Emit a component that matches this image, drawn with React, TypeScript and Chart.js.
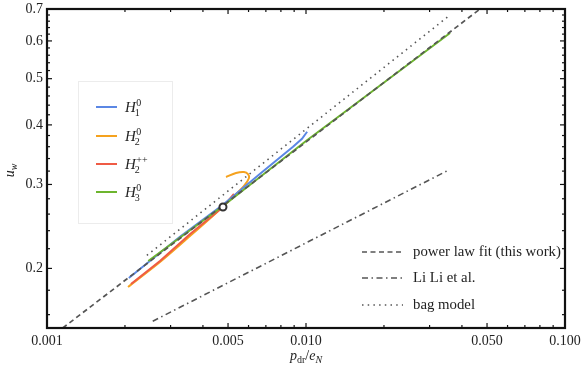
import React, { useEffect, useRef } from 'react';
import { Chart, registerables } from 'chart.js';
Chart.register(...registerables);

// ---- axis ranges & ticks ----
const xRange = [0.001, 0.1];
const yRange = [0.15, 0.7];
const xTickValues = [0.001, 0.005, 0.01, 0.05, 0.1];
const xTickLabels = ['0.001', '0.005', '0.010', '0.050', '0.100'];
const xMinorTicks = [0.002, 0.003, 0.004, 0.006, 0.007, 0.008, 0.009, 0.02, 0.03, 0.04, 0.06, 0.07, 0.08, 0.09];
const yTickValues = [0.2, 0.3, 0.4, 0.5, 0.6, 0.7];
const yTickLabels = ['0.2', '0.3', '0.4', '0.5', '0.6', '0.7'];
const yMinorTicks = [0.16, 0.18, 0.22, 0.24, 0.26, 0.28, 0.32, 0.34, 0.36, 0.38, 0.42, 0.44, 0.46, 0.48, 0.52, 0.54, 0.56, 0.58, 0.62, 0.64, 0.66, 0.68];

// ---- series ----
const h1P = [0.00207, 0.00326, 0.00478, 0.00665, 0.00891, 0.00965, 0.0101];
const h1U = [0.191, 0.233, 0.272, 0.316, 0.36, 0.374, 0.387];
const h2P = [0.002055, 0.002731, 0.003566, 0.004453, 0.00518, 0.005762, 0.006025, 0.005971, 0.005762, 0.005367, 0.004911];
const h2U = [0.1829, 0.2063, 0.2339, 0.2602, 0.2811, 0.2978, 0.3095, 0.3155, 0.3186, 0.3171, 0.311];
const h2ppP = [0.00211, 0.00273, 0.00357, 0.00478, 0.00527];
const h2ppU = [0.1855, 0.2073, 0.2361, 0.2691, 0.2865];
const h3P = [0.00246, 0.00478, 0.01, 0.036];
const h3U = [0.2073, 0.2704, 0.3701, 0.6233];
const fitP = [0.00115, 0.047];
const fitU = [0.15, 0.7];
const liP = [0.00256, 0.0357];
const liU = [0.155, 0.322];
const bagP = [0.00243, 0.036];
const bagU = [0.213, 0.68];
const markerP = [0.00478];
const markerU = [0.269];

const seriesSub = ['1', '2', '2', '3'];
const seriesSup = ['0', '0', '++', '0'];
const refLabels = ['power law fit (this work)', 'Li Li et al.', 'bag model'];

const colors = { h1: '#5b87e4', h2: '#f5a21e', h2pp: '#ef5b45', h3: '#6db52e', gray: '#555555' };
const SERIF = "'Liberation Serif', 'DejaVu Serif', serif";

const pts = (xs: number[], ys: number[]) => xs.map((x, i) => ({ x, y: ys[i] }));

type Part = { t: string; it?: boolean; size: number; dy?: number };
function drawParts(ctx: CanvasRenderingContext2D, parts: Part[], x: number, y: number, center: boolean) {
  const font = (p: Part) => `${p.it ? 'italic ' : ''}${p.size}px ${SERIF}`;
  let w = 0;
  for (const p of parts) { ctx.font = font(p); w += ctx.measureText(p.t).width; }
  let cx = center ? x - w / 2 : x;
  ctx.textBaseline = 'alphabetic';
  ctx.textAlign = 'left';
  for (const p of parts) {
    ctx.font = font(p);
    ctx.fillText(p.t, cx, y + (p.dy || 0));
    cx += ctx.measureText(p.t).width;
  }
}

const decorPlugin = {
  id: 'decor',
  afterDraw(chart: any) {
    const ctx: CanvasRenderingContext2D = chart.ctx;
    const ca = chart.chartArea;
    const xs = chart.scales.x;
    const ys = chart.scales.y;
    ctx.save();
    ctx.strokeStyle = '#111';
    ctx.lineWidth = 1.2;
    const line = (a: number, b: number, c: number, d: number) => {
      ctx.beginPath(); ctx.moveTo(a, b); ctx.lineTo(c, d); ctx.stroke();
    };
    const xt = (vals: number[], len: number) => vals.forEach(v => {
      const p = xs.getPixelForValue(v);
      line(p, ca.bottom, p, ca.bottom - len);
      line(p, ca.top, p, ca.top + len);
    });
    const yt = (vals: number[], len: number) => vals.forEach(v => {
      const p = ys.getPixelForValue(v);
      line(ca.left, p, ca.left + len, p);
      line(ca.right, p, ca.right - len, p);
    });
    xt(xTickValues, 5); xt(xMinorTicks, 3);
    yt(yTickValues, 5); yt(yMinorTicks, 3);
    ctx.lineWidth = 2.2;
    ctx.strokeRect(ca.left, ca.top, ca.right - ca.left, ca.bottom - ca.top);

    // axis titles
    ctx.fillStyle = '#222';
    drawParts(ctx, [
      { t: 'p', it: true, size: 14 },
      { t: 'dr', size: 10, dy: 3 },
      { t: '/', size: 14 },
      { t: 'e', it: true, size: 14 },
      { t: 'N', it: true, size: 10, dy: 3 },
    ], (ca.left + ca.right) / 2, 360, true);
    ctx.save();
    ctx.translate(14, (ca.top + ca.bottom) / 2 + 2);
    ctx.rotate(-Math.PI / 2);
    drawParts(ctx, [
      { t: 'u', it: true, size: 14 },
      { t: 'w', it: true, size: 10, dy: 3 },
    ], 0, 0, true);
    ctx.restore();

    // left legend (colored series)
    ctx.fillStyle = '#fff';
    ctx.fillRect(78, 81, 94, 142);
    ctx.strokeStyle = '#ececec';
    ctx.lineWidth = 1;
    ctx.strokeRect(78.5, 81.5, 94, 142);
    const ds = chart.data.datasets;
    const rowsY = [107, 136, 164, 192];
    for (let i = 0; i < 4; i++) {
      const y = rowsY[i];
      ctx.strokeStyle = ds[i].borderColor;
      ctx.lineWidth = 2;
      line(96, y, 117, y);
      ctx.fillStyle = '#222';
      ctx.font = `italic 15px ${SERIF}`;
      ctx.textAlign = 'left';
      ctx.textBaseline = 'alphabetic';
      ctx.fillText('H', 125, y + 5);
      const hw = ctx.measureText('H').width;
      ctx.font = `10px ${SERIF}`;
      ctx.fillText(seriesSup[i], 125 + hw + 0.5, y - 1.5);
      ctx.fillText(seriesSub[i], 125 + hw - 1, y + 8.5);
    }

    // right legend (reference curves)
    const refY = [252, 278, 305];
    for (let i = 0; i < 3; i++) {
      const d = ds[4 + i];
      ctx.strokeStyle = d.borderColor;
      ctx.lineWidth = d.borderWidth;
      ctx.setLineDash(d.borderDash);
      line(362, refY[i], 403, refY[i]);
      ctx.setLineDash([]);
      ctx.fillStyle = '#222';
      ctx.font = `14.8px ${SERIF}`;
      ctx.textBaseline = 'middle';
      ctx.textAlign = 'left';
      ctx.fillText(refLabels[i], 413, refY[i]);
    }
    ctx.restore();
  },
};

export default function App() {
  const ref = useRef<HTMLCanvasElement | null>(null);
  useEffect(() => {
    if (!ref.current) return;
    Chart.defaults.font.family = SERIF;
    const lineDs = (label: string, data: any, color: string, order: number, extra: any = {}) => ({
      label, data, borderColor: color, backgroundColor: color, borderWidth: 2,
      pointRadius: 0, fill: false, order, ...extra,
    });
    const chart = new Chart(ref.current, {
      type: 'line',
      data: {
        datasets: [
          lineDs('H1', pts(h1P, h1U), colors.h1, 6),
          lineDs('H2', pts(h2P, h2U), colors.h2, 8, { tension: 0.3 }),
          lineDs('H2++', pts(h2ppP, h2ppU), colors.h2pp, 7),
          lineDs('H3', pts(h3P, h3U), colors.h3, 5),
          lineDs('fit', pts(fitP, fitU), colors.gray, 3, { borderWidth: 1.7, borderDash: [5, 3.5] }),
          lineDs('li', pts(liP, liU), colors.gray, 4, { borderWidth: 1.6, borderDash: [6, 3.5, 1.5, 3.5] }),
          lineDs('bag', pts(bagP, bagU), colors.gray, 2, { borderWidth: 1.6, borderDash: [1.5, 4.2] }),
          {
            label: 'marker', data: pts(markerP, markerU), showLine: false, order: 0,
            pointRadius: 3.5, pointBorderWidth: 2, pointBackgroundColor: '#fff', pointBorderColor: '#333',
            borderColor: '#333',
          },
        ],
      },
      options: {
        animation: false,
        responsive: true,
        maintainAspectRatio: false,
        layout: { padding: { left: 0, right: 16, top: 9, bottom: 0 } },
        plugins: { legend: { display: false }, tooltip: { enabled: false } },
        scales: {
          x: {
            type: 'logarithmic', min: xRange[0], max: xRange[1],
            grid: { display: false, drawTicks: false }, border: { display: false },
            afterBuildTicks: (s: any) => { s.ticks = xTickValues.map(v => ({ value: v })); },
            afterFit: (s: any) => { s.height = 47; s.paddingLeft = 0; s.paddingRight = 0; },
            ticks: {
              autoSkip: false, maxRotation: 0, padding: 5, color: '#222', font: { size: 14, family: SERIF },
              callback: (v: any) => { const i = xTickValues.indexOf(Number(v)); return i >= 0 ? xTickLabels[i] : ''; },
            },
          },
          y: {
            type: 'logarithmic', min: yRange[0], max: yRange[1],
            grid: { display: false, drawTicks: false }, border: { display: false },
            afterBuildTicks: (s: any) => { s.ticks = yTickValues.map(v => ({ value: v })); },
            afterFit: (s: any) => { s.width = 47; s.paddingTop = 0; s.paddingBottom = 0; },
            ticks: {
              autoSkip: false, padding: 4, color: '#222', font: { size: 14, family: SERIF },
              callback: (v: any) => { const i = yTickValues.indexOf(Number(v)); return i >= 0 ? yTickLabels[i] : ''; },
            },
          },
        },
      },
      plugins: [decorPlugin],
    });
    return () => chart.destroy();
  }, []);
  return (
    <div style={{ position: 'fixed', left: 0, top: 0, width: 581, height: 375, background: '#fff' }}>
      <canvas ref={ref} />
    </div>
  );
}
